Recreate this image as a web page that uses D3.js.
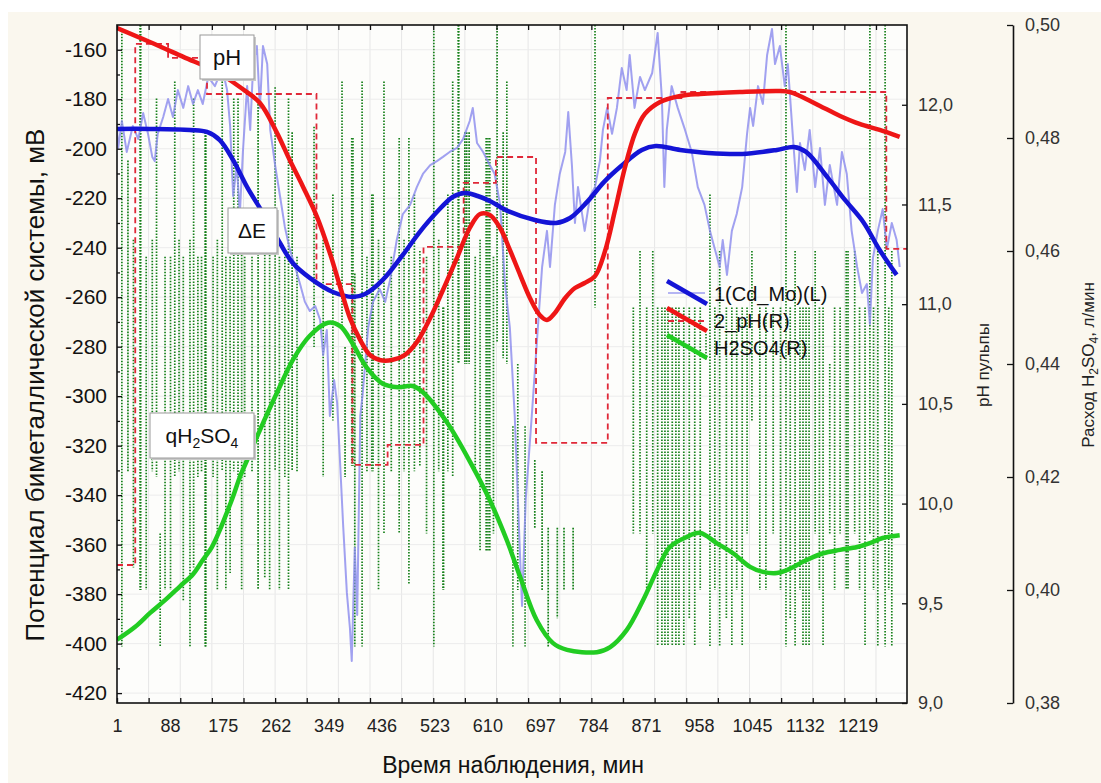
<!DOCTYPE html>
<html>
<head>
<meta charset="utf-8">
<script src="https://d3js.org/d3.v7.min.js"></script>
<style>
  body { margin: 0; background: #fff; }
  svg { display: block; }
</style>
</head>
<body>
<svg id="chart"></svg>
<script>
// potential / pH / acid flow over time

var FONT = "'Liberation Sans', Arial, sans-serif";

var timeLabels = [1, 88, 175, 262, 349, 436, 523, 610, 697, 784, 871, 958, 1045, 1132, 1219];
var timeMarks = [1, 53, 105, 157, 209, 261, 313, 365, 417, 469, 521, 573, 625, 677, 729,
                 781, 833, 885, 937, 989, 1041, 1093, 1145, 1197, 1249];
var mvLabels = [-420, -400, -380, -360, -340, -320, -300, -280, -260, -240, -220, -200, -180, -160];
var mvMinor = [-410, -390, -370, -350, -330, -310, -290, -270, -250, -230, -210, -190, -170];
var phLabels = [9.0, 9.5, 10.0, 10.5, 11.0, 11.5, 12.0];
var acidLabels = [0.38, 0.40, 0.42, 0.44, 0.46, 0.48, 0.50];

// ΔE raw (mV)
var dERaw = [
  [1,-192.4],[3,-199.7],[9,-188.8],[17,-201.3],[22,-196.1],[27,-190.8],[36,-196.1],[44,-185.6],
  [52,-194.0],[59,-203.3],[63,-205.0],[68,-194.0],[77,-187.2],[85,-179.9],[93,-187.2],[101,-176.3],
  [110,-183.5],[118,-174.7],[126,-181.9],[134,-176.3],[142,-181.9],[151,-171.0],[162,-174.7],
  [174,-167.4],[182,-176.3],[187,-190.8],[192,-219.1],[198,-206.6],[203,-226.4],[208,-201.3],
  [215,-174.7],[220,-192.4],[225,-165.8],[231,-158.5],[236,-183.5],[241,-158.5],[248,-165.8],
  [253,-192.4],[261,-206.6],[269,-219.1],[277,-231.6],[285,-240.5],[294,-247.8],[302,-254.7],
  [310,-261.9],[318,-265.6],[327,-263.6],[335,-269.2],[340,-283.4],[346,-273.3],[351,-308.0],
  [358,-293.5],[363,-302.7],[368,-327.8],[373,-352.9],[379,-379.5],[384,-393.7],[387,-407.0],
  [392,-361.3],[396,-388.4],[401,-308.0],[405,-299.1],[414,-272.4],[422,-261.9],[433,-256.7],
  [442,-261.9],[450,-253.0],[461,-236.9],[471,-226.4],[483,-222.7],[494,-215.5],[504,-210.2],
  [516,-206.6],[527,-205.0],[537,-203.3],[548,-201.3],[560,-199.7],[570,-196.1],[581,-188.8],
  [586,-183.5],[593,-197.7],[603,-201.3],[614,-206.6],[622,-210.2],[631,-222.7],[639,-254.7],
  [647,-272.4],[655,-308.0],[664,-366.2],[667,-384.8],[673,-342.0],[683,-308.0],[693,-272.4],
  [700,-247.8],[708,-233.2],[713,-247.8],[721,-222.7],[729,-210.2],[738,-201.3],[743,-185.2],
  [749,-206.6],[754,-230.0],[759,-215.5],[770,-233.2],[779,-219.1],[787,-215.5],[795,-205.0],
  [800,-192.4],[807,-183.5],[815,-194.0],[823,-183.5],[831,-167.4],[839,-176.3],[844,-162.1],
  [852,-183.5],[861,-171.0],[869,-176.3],[881,-169.4],[890,-153.2],[897,-179.9],[901,-215.5],
  [905,-192.4],[913,-174.7],[923,-183.5],[935,-192.4],[946,-201.3],[956,-215.5],[967,-222.7],
  [976,-233.2],[984,-240.5],[992,-247.8],[997,-236.9],[1004,-251.0],[1012,-233.2],[1020,-226.4],
  [1029,-215.5],[1037,-194.0],[1042,-183.5],[1047,-190.8],[1055,-174.7],[1063,-181.9],
  [1070,-162.1],[1078,-151.6],[1083,-165.8],[1091,-158.5],[1099,-174.7],[1104,-165.8],
  [1112,-194.0],[1119,-217.5],[1124,-197.7],[1132,-208.6],[1140,-192.4],[1149,-215.5],
  [1157,-199.7],[1165,-222.7],[1173,-206.6],[1185,-222.7],[1193,-201.3],[1201,-210.2],
  [1209,-233.2],[1218,-247.8],[1226,-258.3],[1234,-254.7],[1239,-270.8],[1244,-244.2],
  [1252,-233.2],[1260,-224.4],[1267,-240.5],[1275,-230.0],[1283,-236.9],[1288,-247.8]
];

// ΔE smoothed (mV)
var dESmooth = [
  [1,-192.0],[55,-192.0],[121,-192.4],[149,-193.2],[170,-196.5],[192,-204.6],[215,-215.5],
  [241,-226.0],[269,-238.1],[290,-246.2],[318,-252.2],[356,-257.9],[389,-259.9],[409,-258.7],
  [438,-253.0],[471,-242.9],[499,-233.6],[527,-225.6],[553,-219.5],[573,-217.9],[594,-219.1],
  [614,-221.1],[644,-225.2],[688,-228.8],[723,-230.0],[746,-228.0],[774,-221.5],[802,-213.4],
  [830,-207.0],[864,-200.5],[887,-198.9],[927,-200.5],[973,-201.7],[1029,-202.1],[1086,-200.5],
  [1114,-199.3],[1134,-201.3],[1170,-211.8],[1198,-220.7],[1228,-229.6],[1255,-240.9],[1283,-251.0]
];

// pH smoothed
var phSmooth = [
  [1,12.385],[55,12.315],[110,12.240],[165,12.165],[203,12.089],[236,12.009],[264,11.859],
  [285,11.723],[307,11.588],[330,11.437],[351,11.257],[368,11.086],[384,10.931],[401,10.820],
  [417,10.745],[433,10.720],[453,10.720],[474,10.745],[494,10.810],[516,10.931],[537,11.071],
  [560,11.232],[581,11.382],[598,11.452],[614,11.447],[631,11.382],[647,11.272],[664,11.146],
  [680,11.031],[696,10.946],[708,10.921],[721,10.956],[738,11.031],[754,11.081],[770,11.106],
  [787,11.141],[803,11.262],[820,11.472],[836,11.683],[853,11.859],[869,11.954],[894,12.014],
  [927,12.044],[960,12.054],[1025,12.064],[1091,12.069],[1107,12.064],[1124,12.044],
  [1157,11.994],[1190,11.944],[1222,11.904],[1255,11.874],[1288,11.839]
];

// pH measured (steps)
var phRaw = [
  [1,9.692],[31,12.305],[85,12.235],[149,12.054],[329,11.101],[388,10.194],[446,10.294],
  [505,11.287],[571,11.608],[624,11.738],[690,10.304],[808,12.034],[929,12.064],[1266,11.277],
  [1300,11.277]
];

// H2SO4 smoothed (l/min)
var acidSmooth = [
  [1,0.3912],[31,0.3935],[55,0.3959],[80,0.3982],[105,0.4007],[126,0.4028],[142,0.4053],
  [157,0.4076],[170,0.4106],[182,0.4138],[192,0.4166],[203,0.4200],[215,0.4230],[236,0.4283],
  [264,0.4349],[290,0.4407],[318,0.4450],[348,0.4473],[368,0.4467],[389,0.4435],[412,0.4393],
  [438,0.4365],[463,0.4359],[487,0.4361],[504,0.4350],[544,0.4296],[586,0.4218],[614,0.4159],
  [642,0.4088],[664,0.4023],[691,0.3947],[718,0.3906],[741,0.3894],[790,0.3890],[812,0.3899],
  [839,0.3929],[866,0.3982],[889,0.4035],[910,0.4076],[938,0.4094],[960,0.4101],[987,0.4083],
  [1014,0.4065],[1042,0.4041],[1063,0.4032],[1086,0.4030],[1102,0.4035],[1135,0.4053],
  [1162,0.4065],[1190,0.4071],[1218,0.4076],[1239,0.4083],[1260,0.4092],[1288,0.4097]
];

// H2SO4 measured: [time, high, low]
var acidRaw = [
  [9,0.499,0.390],[19,0.476,0.421],[28,0.462,0.404],[39,0.500,0.400],[40,0.500,0.400],
  [49,0.459,0.400],[59,0.462,0.421],[66,0.487,0.420],[72,0.410,0.390],[80,0.459,0.400],
  [89,0.459,0.400],[96,0.490,0.420],[103,0.462,0.421],[110,0.459,0.398],[121,0.462,0.390],
  [127,0.487,0.404],[134,0.459,0.420],[140,0.459,0.421],[146,0.481,0.390],[147,0.481,0.390],
  [159,0.459,0.420],[166,0.462,0.400],[174,0.490,0.421],[180,0.459,0.400],[187,0.459,0.403],
  [193,0.487,0.421],[200,0.487,0.420],[206,0.462,0.400],[211,0.459,0.420],[223,0.459,0.421],
  [233,0.486,0.400],[244,0.462,0.402],[252,0.462,0.400],[261,0.489,0.421],[268,0.459,0.400],
  [277,0.459,0.420],[283,0.487,0.400],[289,0.481,0.421],[297,0.459,0.421],
  [325,0.482,0.443],[340,0.462,0.420],[356,0.470,0.430],[371,0.490,0.446],[376,0.443,0.420],
  [387,0.480,0.422],[389,0.480,0.422],[392,0.456,0.390],[404,0.490,0.390],[412,0.459,0.421],
  [420,0.470,0.421],[422,0.470,0.421],[431,0.462,0.400],[440,0.490,0.410],[452,0.459,0.421],
  [465,0.480,0.410],[473,0.462,0.421],[481,0.480,0.401],[490,0.470,0.421],[499,0.460,0.422],
  [510,0.459,0.410],[522,0.499,0.390],[530,0.462,0.421],[537,0.450,0.400],[538,0.450,0.400],
  [545,0.470,0.421],[553,0.490,0.420],[562,0.500,0.440],[563,0.500,0.440],[573,0.481,0.440],
  [576,0.481,0.440],[580,0.481,0.440],[590,0.459,0.421],[598,0.462,0.407],[608,0.480,0.407],
  [611,0.480,0.407],[614,0.480,0.407],[620,0.459,0.410],[626,0.500,0.444],[636,0.481,0.441],
  [642,0.490,0.440],[652,0.429,0.390],[660,0.440,0.400],[672,0.429,0.390],[688,0.423,0.411],
  [700,0.421,0.400],[710,0.411,0.390],[725,0.411,0.395],[736,0.411,0.400],[751,0.411,0.400],
  [787,0.500,0.450],[850,0.450,0.410],[861,0.460,0.410],[872,0.450,0.400],[882,0.460,0.410],
  [890,0.450,0.390],[897,0.450,0.390],[902,0.450,0.390],[907,0.450,0.390],[914,0.450,0.390],
  [920,0.450,0.390],[925,0.450,0.390],[933,0.450,0.390],[942,0.450,0.395],[951,0.450,0.390],
  [960,0.450,0.400],[976,0.470,0.390],[984,0.450,0.400],[992,0.460,0.390],[1003,0.450,0.395],
  [1012,0.450,0.390],[1020,0.450,0.400],[1029,0.450,0.390],[1037,0.450,0.410],[1045,0.460,0.430],
  [1058,0.450,0.400],[1068,0.450,0.400],[1080,0.450,0.410],[1092,0.450,0.400],[1101,0.500,0.390],
  [1108,0.450,0.395],[1116,0.460,0.390],[1124,0.450,0.400],[1129,0.450,0.390],[1134,0.450,0.390],
  [1139,0.450,0.390],[1149,0.460,0.410],[1156,0.450,0.400],[1162,0.450,0.390],[1173,0.440,0.410],
  [1181,0.450,0.400],[1190,0.450,0.410],[1200,0.460,0.400],[1203,0.460,0.400],[1214,0.460,0.410],
  [1222,0.450,0.400],[1231,0.450,0.390],[1239,0.500,0.410],[1245,0.450,0.400],[1252,0.460,0.390],
  [1264,0.500,0.390],[1270,0.450,0.400],[1275,0.460,0.390]
];

var legendNames = ["1(Cd_Mo)(L)", "2_pH(R)", "H2SO4(R)"];
var legendColors = ["#1414d6", "#ee1616", "#22cc22"];

var width = 1101, height = 783;
var L = 117, R = 907, T = 25, B = 703;

var svg = d3.select("#chart").attr("width", width).attr("height", height)
    .style("font-family", FONT);

var x = d3.scaleLinear().domain([1, 1300]).range([L, R]);
var yMv = d3.scaleLinear().domain([-424, -150]).range([B, T]);
var yPh = d3.scaleLinear().domain([9, 12.4]).range([B, T]);
var yAcid = d3.scaleLinear().domain([0.38, 0.50]).range([B, T]);

var comma = function(f) { return function(d) { return d3.format(f)(d).replace(".", ","); }; };
var plain = function(d) { return String(d); };

// backgrounds
svg.append("rect").attr("x", 8).attr("y", 12).attr("width", width - 8).attr("height", height - 12)
    .attr("fill", "#faf7ee");
svg.append("rect").attr("x", L).attr("y", T).attr("width", R - L).attr("height", B - T)
    .attr("fill", "#fdfdfb");

svg.append("clipPath").attr("id", "plot").append("rect")
    .attr("x", L).attr("y", T).attr("width", R - L).attr("height", B - T);

var plot = svg.append("g").attr("clip-path", "url(#plot)");

// grid
plot.append("g").selectAll("line").data(timeMarks.slice(1)).join("line")
    .attr("x1", function(d) { return x(d); }).attr("x2", function(d) { return x(d); })
    .attr("y1", T).attr("y2", B)
    .attr("stroke", "#e6e6e6").attr("stroke-width", 1);
plot.append("g").selectAll("line").data(mvLabels).join("line")
    .attr("x1", L).attr("x2", R)
    .attr("y1", function(d) { return yMv(d); }).attr("y2", function(d) { return yMv(d); })
    .attr("stroke", "#ececec").attr("stroke-width", 1);

// raw acid flow: dotted verticals
plot.append("g").selectAll("line").data(acidRaw).join("line")
    .attr("x1", function(d) { return x(d[0]); }).attr("x2", function(d) { return x(d[0]); })
    .attr("y1", function(d) { return yAcid(d[1]); }).attr("y2", function(d) { return yAcid(d[2]); })
    .attr("stroke", "#16801a").attr("stroke-width", 1.7).attr("stroke-dasharray", "1.6,1.4");

var lineMv = d3.line().x(function(d) { return x(d[0]); }).y(function(d) { return yMv(d[1]); });
var smoothMv = d3.line().curve(d3.curveCatmullRom.alpha(0.5))
    .x(function(d) { return x(d[0]); }).y(function(d) { return yMv(d[1]); });
var smoothPh = d3.line().curve(d3.curveCatmullRom.alpha(0.5))
    .x(function(d) { return x(d[0]); }).y(function(d) { return yPh(d[1]); });
var stepPh = d3.line().curve(d3.curveStepAfter)
    .x(function(d) { return x(d[0]); }).y(function(d) { return yPh(d[1]); });
var smoothAcid = d3.line().curve(d3.curveCatmullRom.alpha(0.5))
    .x(function(d) { return x(d[0]); }).y(function(d) { return yAcid(d[1]); });

plot.append("path").attr("d", lineMv(dERaw))
    .attr("fill", "none").attr("stroke", "#8a8aee").attr("stroke-width", 2)
    .attr("stroke-linejoin", "round").attr("opacity", 0.8);
plot.append("path").attr("d", stepPh(phRaw))
    .attr("fill", "none").attr("stroke", "#e02838").attr("stroke-width", 1.8)
    .attr("stroke-dasharray", "6,4");
plot.append("path").attr("d", smoothAcid(acidSmooth))
    .attr("fill", "none").attr("stroke", legendColors[2]).attr("stroke-width", 4.5);
plot.append("path").attr("d", smoothMv(dESmooth))
    .attr("fill", "none").attr("stroke", legendColors[0]).attr("stroke-width", 4.5);
plot.append("path").attr("d", smoothPh(phSmooth))
    .attr("fill", "none").attr("stroke", legendColors[1]).attr("stroke-width", 4.5);

// frame
svg.append("rect").attr("x", L).attr("y", T).attr("width", R - L).attr("height", B - T)
    .attr("fill", "none").attr("stroke", "#111").attr("stroke-width", 1.6);

function styleAxis(g, size, color) {
  g.attr("font-family", FONT).attr("font-size", size).attr("color", color);
  g.selectAll(".tick line").attr("stroke", "#111").attr("stroke-width", 1.3);
}

// left axis
svg.append("g").attr("transform", "translate(" + L + ",0)")
    .call(d3.axisLeft(yMv).tickValues(mvLabels).tickSize(-5).tickSizeOuter(0).tickPadding(10)
      .tickFormat(plain))
    .call(function(g) { g.select(".domain").remove(); styleAxis(g, 21, "#111"); });
svg.append("g").attr("transform", "translate(" + L + ",0)")
    .call(d3.axisLeft(yMv).tickValues(mvMinor).tickSize(-3).tickSizeOuter(0).tickFormat(""))
    .call(function(g) { g.select(".domain").remove(); styleAxis(g, 10, "#111"); });

// bottom axis
svg.append("g").attr("transform", "translate(0," + B + ")")
    .call(d3.axisBottom(x).tickValues(timeLabels).tickSize(0).tickPadding(16).tickFormat(plain))
    .call(function(g) { g.select(".domain").remove(); styleAxis(g, 18, "#222"); });
svg.append("g").attr("transform", "translate(0," + B + ")")
    .call(d3.axisBottom(x).tickValues(timeMarks).tickSize(-5).tickSizeOuter(0).tickFormat(""))
    .call(function(g) { g.select(".domain").remove(); styleAxis(g, 10, "#111"); });
svg.append("g").attr("transform", "translate(0," + T + ")")
    .call(d3.axisTop(x).tickValues(timeMarks).tickSize(-5).tickSizeOuter(0).tickFormat(""))
    .call(function(g) { g.select(".domain").remove(); styleAxis(g, 10, "#111"); });

// pH axis
svg.append("g").attr("transform", "translate(" + R + ",0)")
    .call(d3.axisRight(yPh).tickValues(phLabels).tickSize(-5).tickSizeOuter(0).tickPadding(11)
      .tickFormat(comma(".1f")))
    .call(function(g) { g.select(".domain").remove(); styleAxis(g, 18, "#333"); });

// acid axis
svg.append("g").attr("transform", "translate(1013,0)")
    .call(d3.axisRight(yAcid).tickValues(acidLabels).tickSize(-6).tickSizeOuter(0).tickPadding(12)
      .tickFormat(comma(".2f")))
    .call(function(g) {
      styleAxis(g, 18, "#333");
      g.select(".domain").attr("stroke", "#111").attr("stroke-width", 1.6);
    });

// axis titles
svg.append("text").attr("transform", "translate(44,385) rotate(-90)")
    .attr("text-anchor", "middle").attr("font-size", 26).attr("fill", "#111")
    .text("Потенциал биметаллической системы, мВ");
svg.append("text").attr("x", 513).attr("y", 773)
    .attr("text-anchor", "middle").attr("font-size", 23).attr("fill", "#111")
    .text("Время наблюдения,  мин");
svg.append("text").attr("transform", "translate(989,365) rotate(-90)")
    .attr("text-anchor", "middle").attr("font-size", 17).attr("fill", "#222")
    .text("pH пульпы");
var acidTitle = svg.append("text").attr("transform", "translate(1094,365) rotate(-90)")
    .attr("text-anchor", "middle").attr("font-size", 17).attr("fill", "#222");
acidTitle.append("tspan").text("Расход H");
acidTitle.append("tspan").attr("font-size", 12).attr("dy", 4).text("2");
acidTitle.append("tspan").attr("dy", -4).text("SO");
acidTitle.append("tspan").attr("font-size", 12).attr("dy", 4).text("4");
acidTitle.append("tspan").attr("dy", -4).text(", л/мин");

// legend
var legend = svg.append("g");
legendNames.forEach(function(name, i) {
  var cy = 294 + i * 27;
  if (i === 0) {
    legend.append("line").attr("x1", 668).attr("x2", 705).attr("y1", cy - 1).attr("y2", cy - 1)
        .attr("stroke", "#9c9cf0").attr("stroke-width", 1.5);
  }
  if (i === 1) {
    legend.append("line").attr("x1", 668).attr("x2", 705).attr("y1", cy).attr("y2", cy)
        .attr("stroke", "#e02838").attr("stroke-width", 1.8).attr("stroke-dasharray", "6,4");
  }
  if (i === 2) {
    legend.append("line").attr("x1", 706).attr("x2", 706).attr("y1", cy - 14).attr("y2", cy + 12)
        .attr("stroke", "#16801a").attr("stroke-width", 1.6).attr("stroke-dasharray", "1.6,1.4");
  }
  legend.append("line").attr("x1", 667).attr("x2", 707).attr("y1", cy - 13).attr("y2", cy + 10)
      .attr("stroke", legendColors[i]).attr("stroke-width", 4.5);
  legend.append("text").attr("x", 714).attr("y", cy + 7)
      .attr("font-size", 20).attr("fill", "#111").text(name);
});

// annotation boxes
function noteBox(x0, y0, w, h) {
  svg.append("rect").attr("x", x0 + 2).attr("y", y0 + 2).attr("width", w).attr("height", h)
      .attr("fill", "#c9c9c9");
  svg.append("rect").attr("x", x0).attr("y", y0).attr("width", w).attr("height", h)
      .attr("fill", "#fff").attr("stroke", "#9a9a9a").attr("stroke-width", 1);
}
noteBox(200, 35, 54, 44);
svg.append("text").attr("x", 227).attr("y", 65).attr("text-anchor", "middle")
    .attr("font-size", 22).attr("fill", "#111").text("pH");
noteBox(228, 208, 49, 45);
svg.append("text").attr("x", 252).attr("y", 238).attr("text-anchor", "middle")
    .attr("font-size", 21).attr("fill", "#111").text("ΔE");
noteBox(150, 413, 104, 45);
var q = svg.append("text").attr("x", 202).attr("y", 443).attr("text-anchor", "middle")
    .attr("font-size", 21).attr("fill", "#111");
q.append("tspan").text("qH");
q.append("tspan").attr("font-size", 14).attr("dy", 5).text("2");
q.append("tspan").attr("dy", -5).text("SO");
q.append("tspan").attr("font-size", 14).attr("dy", 5).text("4");
</script>
</body>
</html>
